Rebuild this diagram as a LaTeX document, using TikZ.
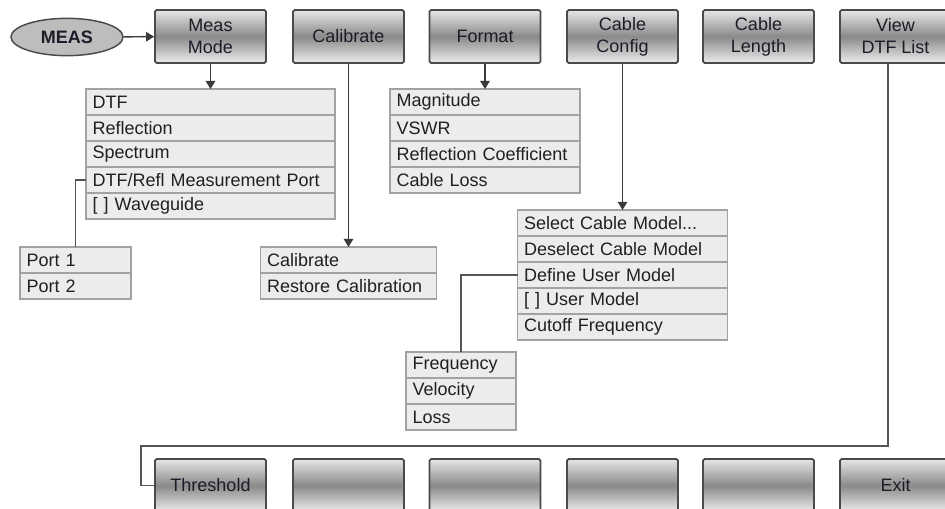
\documentclass[tikz,border=0pt]{standalone}
\usepackage{fontspec}
\setmainfont{Liberation Sans}
\usetikzlibrary{shapes.geometric,arrows.meta}
\definecolor{btnedge}{HTML}{4A4A4A}
\definecolor{btntop}{HTML}{E6E6E6}
\definecolor{btnmid}{HTML}{8A8A8A}
\definecolor{btnbot}{HTML}{EDEDED}
\definecolor{btntext}{HTML}{1C1C28}
\definecolor{rowedge}{HTML}{A2A2A2}
\definecolor{rowfill}{HTML}{ECECEC}
\definecolor{txt}{HTML}{202020}
\definecolor{lnk}{HTML}{3A3A3A}
\definecolor{glnk}{HTML}{555555}
\definecolor{ellfill}{HTML}{BDBDBD}
\newcommand\menufont{\fontsize{13.5}{16.5}\selectfont}
\tikzset{
  btn/.style={draw=btnedge, line width=1.3pt, rounded corners=1.2pt,
    top color=btntop, bottom color=btnbot, middle color=btnmid,
    minimum width=83.25pt, minimum height=39.75pt, inner sep=0pt,
    align=center, font=\menufont, text=btntext},
  row/.style={draw=rowedge, fill=rowfill, line width=1pt, minimum height=19.5pt,
    inner xsep=5pt, inner ysep=0pt, outer sep=0pt, text width=#1, align=left,
    font=\menufont, text=txt, anchor=north},
  arr/.style={draw=lnk, line width=1.1pt, -{Triangle[length=6pt,width=7pt]}},
  gline/.style={draw=glnk, line width=1.1pt},
  measell/.style={ellipse, draw=btnedge, line width=1.1pt, fill=ellfill,
    minimum width=84pt, minimum height=28pt, inner sep=0pt,
    font=\menufont\bfseries, text=btntext}
}
\begin{document}
\begin{tikzpicture}[x=0.75pt,y=-0.75pt]
\useasboundingbox (0,0) rectangle (945,509);
\clip (0,0) rectangle (945,509);
\fill[white] (0,0) rectangle (945,509);

% top buttons
\node[measell] (meas) at (67,37) {MEAS};
\node[btn] (mm)  at (210.5,36.5) {Meas\\Mode};
\node[btn] (cal) at (348.5,36.5) {Calibrate};
\node[btn] (fmt) at (485,36.5) {Format};
\node[btn] (cc)  at (622.5,36.5) {Cable\\Config};
\node[btn] (cl)  at (758.5,36.5) {Cable\\Length};
\node[btn] (vdl) at (895.5,36.5) {View\\DTF List};

% bottom buttons
\node[btn] (th) at (210.5,485.5) {Threshold};
\node[btn] (b2) at (348.5,485.5) {};
\node[btn] (b3) at (485,485.5) {};
\node[btn] (b4) at (622.5,485.5) {};
\node[btn] (b5) at (758.5,485.5) {};
\node[btn] (ex) at (895.5,485.5) {Exit};

% Meas Mode menu
\node[row=176.75pt] (m1a) at (210.5,89) {DTF};
\node[row=176.75pt] (m1b) at (m1a.south) {Reflection};
\node[row=176.75pt] (m1c) at (m1b.south) {Spectrum};
\node[row=176.75pt] (m1d) at (m1c.south) {DTF/Refl Measurement Port};
\node[row=176.75pt] (m1e) at (m1d.south) {[ ] Waveguide};

% Port menu
\node[row=73.25pt] (p1) at (75.5,247) {Port 1};
\node[row=73.25pt] (p2) at (p1.south) {Port 2};

% Calibrate menu
\node[row=122pt] (ca) at (348.5,247) {Calibrate};
\node[row=122pt] (cb) at (ca.south) {Restore Calibration};

% Format menu
\node[row=132.5pt] (fa) at (485,89) {Magnitude};
\node[row=132.5pt] (fb) at (fa.south) {VSWR};
\node[row=132.5pt] (fc) at (fb.south) {Reflection Coefficient};
\node[row=132.5pt] (fd) at (fc.south) {Cable Loss};

% Cable Config menu
\node[row=147.5pt] (cba) at (622.5,210) {Select Cable Model...};
\node[row=147.5pt] (cbb) at (cba.south) {Deselect Cable Model};
\node[row=147.5pt] (cbc) at (cbb.south) {Define User Model};
\node[row=147.5pt] (cbd) at (cbc.south) {[ ] User Model};
\node[row=147.5pt] (cbe) at (cbd.south) {Cutoff Frequency};

% User model menu
\node[row=72.5pt] (fr1) at (461,352) {Frequency};
\node[row=72.5pt] (fr2) at (fr1.south) {Velocity};
\node[row=72.5pt] (fr3) at (fr2.south) {Loss};

% connectors
\draw[arr] (meas) -- (mm);
\draw[arr] (mm) -- (m1a);
\draw[arr] (cal) -- (ca);
\draw[arr] (fmt) -- (fa);
\draw[arr] (cc) -- (cba);
\draw[gline] (m1d.west) -| (p1.north);
\draw[gline] (cbc.west) -| (fr1.north);
\coordinate (v0) at (888,63);
\coordinate (c1) at (141,446);
\draw[gline] (v0) |- (c1) |- (th.west);
\end{tikzpicture}
\end{document}
